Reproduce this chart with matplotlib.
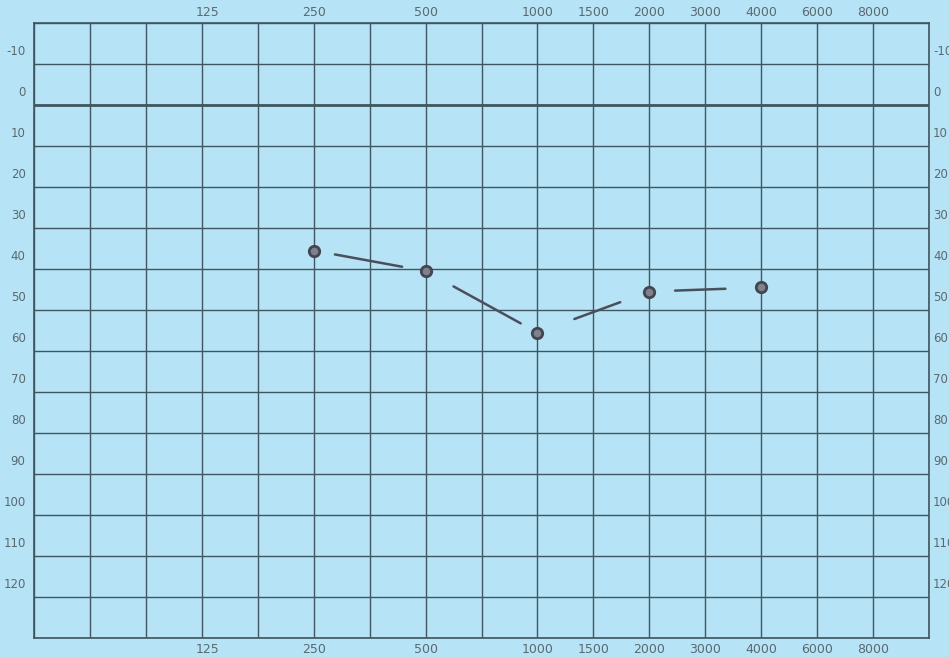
import numpy as np
import matplotlib.pyplot as plt

# audiogram form: frequency labels sit on grid columns (index), hearing level in dB
freq_labels = ["125", "250", "500", "1000", "1500", "2000", "3000", "4000", "6000", "8000"]
freq_cols = [3, 5, 7, 9, 10, 11, 12, 13, 14, 15]
db_labels = [-10, 0, 10, 20, 30, 40, 50, 60, 70, 80, 90, 100, 110, 120]

# measured thresholds (hand marked circles)
test_freqs = ["250", "500", "1000", "2000", "4000"]
test_db = [35.5, 40.5, 55.5, 45.5, 44.5]

# pen strokes between neighbouring circles (start/end fraction of the gap)
stroke_from = [0.19, 0.25, 0.33, 0.23]
stroke_to = [0.79, 0.85, 0.74, 0.68]

bg = "#b6e3f6"
ink = "#3f5560"
txt = "#5a6a70"

fig = plt.figure(figsize=(9.49, 6.57), dpi=100)
fig.patch.set_facecolor(bg)
ax = fig.add_axes([34 / 949, 19 / 657, 895 / 949, 615 / 657])
ax.set_facecolor(bg)
ax.set_xlim(0, 16)
ax.set_ylim(130, -20)

for x in range(17):
    ax.axvline(x, color=ink, lw=1.0, zorder=1)
for y in range(-20, 131, 10):
    ax.axhline(y, color=ink, lw=2.0 if y == 0 else 1.0, zorder=1)

for s in ax.spines.values():
    s.set_color(ink)
    s.set_linewidth(1.2)
ax.set_xticks([])
ax.set_yticks([])

# frequency labels top and bottom
for lab, c in zip(freq_labels, freq_cols):
    xo = 0.1 if lab == "125" else 0
    ax.text(c + xo, -20.9, lab, ha="center", va="bottom", fontsize=9, color=txt)
    ax.text(c + xo, 131.3, lab, ha="center", va="top", fontsize=9, color=txt)

# dB labels, printed a little above their grid line
for v in db_labels:
    ax.text(-0.15, v - 3, str(v), ha="right", va="center", fontsize=8.5, color=txt)
    ax.text(16.07, v - 3, str(v), ha="left", va="center", fontsize=8.5, color=txt,
            clip_on=False)

xs = np.array([freq_cols[freq_labels.index(f)] for f in test_freqs], dtype=float)
ys = np.array(test_db)

for i in range(len(xs) - 1):
    t = np.array([stroke_from[i], stroke_to[i]])
    sx = xs[i] + t * (xs[i + 1] - xs[i])
    sy = ys[i] + t * (ys[i + 1] - ys[i])
    ax.plot(sx, sy, color="#4a4f5c", lw=1.8, solid_capstyle="round", zorder=3)

ax.plot(xs, ys, ls="none", marker="o", markersize=7.5, markerfacecolor="#7d8290",
        markeredgecolor="#45454f", markeredgewidth=2, zorder=4)

fig.savefig("out.png", dpi=100, facecolor=bg)
